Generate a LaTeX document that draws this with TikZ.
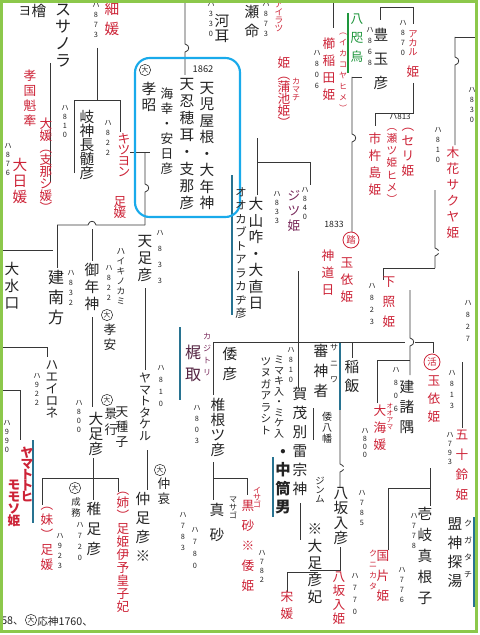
\documentclass[tikz,border=0pt]{standalone}
\usepackage{fontspec}
\setmainfont{Noto Sans CJK JP}
\usetikzlibrary{positioning}
\definecolor{ink}{RGB}{35,35,35}
\definecolor{hand}{RGB}{205,35,55}
\definecolor{plum}{RGB}{120,40,90}
\definecolor{wire}{RGB}{55,55,55}
\definecolor{tealline}{RGB}{40,115,145}
\definecolor{leaf}{RGB}{30,150,60}
\definecolor{boxblue}{RGB}{25,170,235}
\definecolor{framegreen}{RGB}{140,200,75}
\newdimen\pxu \pxu=0.75pt
\makeatletter
\def\vt@end{vt@end}
\def\vt@loop#1{\ifx\vt@end#1\else\hbox to 1em{\hss#1\hss}\expandafter\vt@loop\fi}
\newcommand\vt[2][15]{\vbox{\baselineskip=#1\pxu\lineskiplimit=-\maxdimen\vt@loop#2\vt@end}}
\makeatother
\newcommand\vjump[4]{\draw[ln] (#1,#2) -- (#1,#3-4) .. controls (#1+5,#3-3) and (#1+5,#3+3) .. (#1,#3+4) -- (#1,#4);}
\newcommand\hjump[4]{\draw[ln] (#2,#1) -- (#3-4,#1) .. controls (#3-3,#1-5) and (#3+3,#1-5) .. (#3+4,#1) -- (#4,#1);}
\begin{document}
\begin{tikzpicture}[x=0.75pt,y=-0.75pt,
  nm/.style={inner sep=0pt,anchor=north,text=ink},
  big/.style={nm,font=\fontsize{11}{11}\selectfont},
  mid/.style={nm,font=\fontsize{9.5}{9.5}\selectfont},
  sml/.style={nm,font=\fontsize{5.5}{5.5}\selectfont},
  rby/.style={nm,font=\fontsize{6}{6}\selectfont},
  rd/.style={text=hand},
  ln/.style={draw=wire,line width=0.6pt},
  dbl/.style={draw=wire,double,double distance=0.9pt,line width=0.4pt},
  tl/.style={draw=tealline,line width=0.9pt},
  dai/.style={circle,draw=ink,line width=0.4pt,inner sep=0pt,minimum size=8.5pt,font=\fontsize{5}{5}\selectfont,text=ink},
  rcirc/.style={circle,draw=hand,line width=0.6pt,inner sep=0pt,minimum size=12pt,font=\fontsize{7}{7}\selectfont,text=hand}]
\useasboundingbox (0,0) rectangle (479,635);
\fill[white] (0,0) rectangle (479,635);

% lines, left part
\draw[dbl] (0,26) -- (47,26);
\draw[dbl] (0,60) -- (53,60);
\draw[ln] (50,63) -- (50,182);
\draw[dbl] (63,48) -- (343,48);
\draw[ln] (97,48) -- (97,100) (74,173) -- (74,100) -- (120,100) -- (120,132);
\draw[dbl] (0,188) -- (141,188);
\draw[ln] (130,152) -- (150,152);
\vjump{145}{152}{188}{225}
\hjump{225}{57}{92}{145}
\draw[ln] (57,225) -- (57,268);
\draw[dbl] (51,258) -- (51,288);
\draw[ln] (0,250) -- (53,250);
\draw[ln] (92,229) -- (92,261) (92,317) -- (92,407);
\draw[ln] (145,288) -- (145,370);
\draw[ln] (0,347) -- (47,347) -- (47,357);
\draw[dbl] (0,367) -- (33,367);
\draw[ln] (0,390) -- (20,390) -- (20,440);
\draw[ln] (93,458) -- (93,500);
\draw[ln] (42,505) -- (42,478) -- (118,478) -- (118,492);
\draw[ln] (147,450) -- (147,490);
\draw[dbl] (0,552) -- (33,552);
\draw[tl] (33,440) -- (33,523);

% lines, middle part
\vjump{185}{0}{48}{75}
\draw[dbl] (218,138) -- (370,138);
\draw[ln] (257,138) -- (257,195) (257,162) -- (310,162) -- (310,185);
\draw[tl] (232,175) -- (232,315);
\draw[dbl] (267,271) -- (320,271);
\draw[ln] (298,271) -- (298,388);
\draw[ln] (213,342) -- (405,342) (415,342) -- (433,342) -- (433,353);
\draw[ln] (213,342) -- (213,395) (352,342) -- (352,358);
\draw[tl] (180,327) -- (180,400);
\draw[ln] (213,462) -- (213,500) (213,478) -- (247,478) -- (247,495);
\draw[tl] (273,457) -- (273,517);
\draw[ln] (300,503) -- (300,540);
\draw[ln] (287,592) -- (287,572) -- (318,572);
\draw[dbl] (313,408) -- (340,408);
\draw[ln] (313,408) -- (313,440);
\vjump{340}{408}{468}{487}
\draw[dbl] (310,468) -- (450,468);
\draw[ln] (430,468) -- (430,506);
\draw[ln] (388,550) -- (388,488) -- (430,488);
\draw[ln] (340,547) -- (340,570) -- (310,570);
\draw[tl] (340,343) -- (340,410);
\draw[tl] (474,517) -- (474,607);

% lines, right part
\draw[ln] (333,0) -- (333,28);
\draw[leaf,line width=1pt] (348,13) -- (348,73);
\draw[ln] (380,20) -- (380,7) -- (413,7) -- (413,24);
\draw[dbl] (392,61) -- (476,61);
\vjump{455}{37}{61}{145}
\draw[ln] (455,37) -- (476,37);
\vjump{352}{77}{138}{232}
\draw[ln] (352,77) -- (362,77);
\draw[ln] (413,83) -- (413,113) -- (375,113) -- (375,126);
\draw[dbl] (420,190) -- (476,190);
\vjump{435}{190}{252}{268}
\draw[ln] (435,268) -- (383,268) -- (383,280);
\draw[dbl] (357,252) -- (476,252);
\draw[dbl] (407,290) -- (476,290);
\vjump{410}{290}{342}{375}
\draw[ln] (377,403) -- (377,360) -- (410,360);
\draw[dbl] (443,360) -- (476,360);
\draw[ln] (462,362) -- (462,428);

% names, top left
\node[mid] (yo) at (25,6) {ヨ};
\node[big] (hinoki) at (39,4) {檜};
\node[big,font=\fontsize{12}{12}\selectfont] (susanora) at (63,4) {\vt[17]{スサノラ}};
\node[big,rd] (hoso) at (112,2) {\vt[20]{細媛}};
\node[sml] (n873a) at (96,2) {\vt[10]{ハ873}};
\node[mid,rd] (kokuA) at (30,70) {\vt[15]{孝国魁牽}};
\node[mid,rd] (kokuB) at (46,118) {\vt[12]{大媛︵支那シ媛︶}};
\node[sml] (n876) at (8,143) {\vt[9]{ハ876}};
\node[big,rd] (oohi) at (20,158) {\vt[16]{大日媛}};
\node[big] (nagasune) at (87,110) {\vt[14]{岐神長髄彦}};
\node[sml] (n810a) at (65,105) {\vt[9]{ハ810}};
\node[mid,rd] (kitsu) at (124,133) {\vt[11]{キツヨン}};
\node[sml] (n822a) at (108,120) {\vt[10]{ハ822}};
\node[mid,rd] (ashihime) at (120,196) {\vt[11]{足媛}};

% names in the box
\draw[boxblue,line width=1.6pt,rounded corners=11pt] (135,58) rectangle (240,217);
\node[dai] (dai1) at (145,70) {大};
\node[big] (kosho) at (149,82) {\vt[16]{孝昭}};
\node[nm,font=\fontsize{7}{7}\selectfont,anchor=center] (y1862) at (203,69) {1862};
\node[mid] (umisachi) at (167,88) {\vt[15]{海幸・安日彦}};
\node[big] (oshiho) at (187,78) {\vt[17]{天忍穂耳・支那彦}};
\node[big] (koyane) at (207,82) {\vt[16.5]{天児屋根・大年神}};

% names, top middle and right
\node[sml] (n330) at (211,1) {\vt[10]{ハ330}};
\node[big] (kawamimi) at (222,14) {\vt[15]{河耳}};
\node[big] (semei) at (252,5) {\vt[19]{瀬命}};
\node[sml] (n873b) at (266,1) {\vt[10]{ハ873}};
\node[rby,rd,font=\fontsize{6.5}{6.5}\selectfont] (airatsu) at (279,1) {\vt[8]{アイラツ}};
\node[mid,rd] (kamachi) at (284,57) {\vt[12]{姫︵蒲池姫︶}};
\node[rby,rd] (kamachiR) at (296,78) {\vt[8]{カマチ}};
\node[mid,text=leaf] (yata) at (357,14) {\vt[19]{八咫烏}};
\node[rby,rd] (ikako) at (343,33) {\vt[11]{︵イカコヤヒメ︶}};
\node[mid,rd] (kushi) at (329,38) {\vt[17]{櫛稲田姫}};
\node[sml] (n806a) at (317,50) {\vt[11]{ハ806}};
\node[big] (toyotama) at (381,28) {\vt[24]{豊玉彦}};
\node[sml] (n868) at (370,27) {\vt[11]{ハ868}};
\node[rby,rd,font=\fontsize{7}{7}\selectfont] (akaru) at (413,30) {\vt[9]{アカル}};
\node[mid,rd] (akaruH) at (413,66) {姫};
\node[sml] (n870) at (403,20) {\vt[10]{ハ870}};
\node[nm,font=\fontsize{6}{6}\selectfont,anchor=center] (n813a) at (400,117) {ハ813};
\node[mid,rd] (ichiki) at (375,133) {\vt[17]{市杵島姫}};
\node[rby,rd,font=\fontsize{8}{8}\selectfont] (tagitsu) at (392,128) {\vt[12.2]{︵瀬ツ姫ヒメ︶}};
\node[mid,rd] (seri) at (408,128) {\vt[15]{︵セリ姫}};
\node[sml] (n810b) at (438,127) {\vt[10]{ハ810}};
\node[mid,rd] (konohana) at (453,147) {\vt[16]{木花サクヤ姫}};
\node[sml] (n830) at (472,87) {\vt[10]{ハ830}};
\node[nm,font=\fontsize{6.5}{6.5}\selectfont,anchor=center] (n1833) at (334,224) {1833};
\node[rcirc] (tou) at (351,240) {踏};
\node[mid,rd] (kamimichi) at (328,250) {\vt[17]{神道日}};
\node[mid,rd] (tamayori1) at (347,257) {\vt[17]{玉依姫}};
\node[mid,rd] (shitateru) at (389,277) {\vt[20]{下照姫}};
\node[sml] (n823) at (372,283) {\vt[12]{ハ823}};
\node[sml] (n827) at (468,300) {\vt[12]{ハ827}};

% names, middle
\node[sml] (n833a) at (160,230) {\vt[16]{ハ833}};
\node[big] (amatarashi) at (145,235) {\vt[17]{天足彦}};
\node[mid,font=\fontsize{8.5}{8.5}\selectfont] (kabuto) at (241,187) {\vt[13.5]{オオカブトアラカヂ彦}};
\node[big] (ooyama) at (256,197) {\vt[16.5]{大山咋・大直日}};
\node[sml] (n833b) at (277,191) {\vt[9]{ハ833}};
\node[mid,text=plum] (jitsu) at (294,190) {\vt[15]{ジツ姫}};
\node[sml] (n840) at (305,187) {\vt[9]{ハ840}};
\node[big,font=\fontsize{12}{12}\selectfont,text=plum!60!ink] (kajitori) at (193,345) {\vt[22]{梶取}};
\node[rby,text=plum] (kajiR) at (207,333) {\vt[12]{カジトリ}};
\node[big] (yamatohiko) at (230,347) {\vt[20]{倭彦}};
\node[sml] (n810c) at (161,365) {\vt[12]{ハ810}};
\node[mid,font=\fontsize{9}{9}\selectfont] (takeru) at (145,373) {\vt[11.5]{ヤマトタケル}};
\node[sml] (n803) at (197,405) {\vt[11]{ハ803}};
\node[big] (shiine) at (218,398) {\vt[15]{椎根ツ彦}};
\node[rby,font=\fontsize{7.5}{7.5}\selectfont] (mimaki) at (279,356) {\vt[10.5]{ミマキ入・ミケ入}};
\node[big,font=\fontsize{11.5}{11.5}\bfseries] (nakatsutsu) at (283,449) {\vt[18.5]{・中筒男}};
\node[rby,font=\fontsize{8}{8}\selectfont] (tsunuga) at (266,357) {\vt[11.5]{ツヌガアラシト}};
\node[sml] (n810d) at (291,347) {\vt[10]{ハ810}};
\node[big] (kamo) at (300,387) {\vt[19]{賀茂別雷宗神}};
\node[rby,font=\fontsize{7.5}{7.5}\selectfont] (yawata) at (327,412) {\vt[11]{倭八幡}};
\node[rby,font=\fontsize{7}{7}\selectfont] (jinmu) at (320,477) {\vt[9]{ジンム}};
\node[big] (saniwa) at (321,344) {\vt[20]{審神者}};
\node[rby] (saniwaR) at (334,344) {\vt[16]{サニワ}};
\node[big] (inai) at (352,360) {\vt[19]{稲飯}};
\node[rcirc] (katsu) at (432,362) {活};
\node[mid,rd] (tamayori2) at (434,375) {\vt[18]{玉依姫}};
\node[sml] (n813b) at (452,370) {\vt[11]{ハ813}};
\node[big] (takemoro) at (407,380) {\vt[20]{建諸隅}};
\node[sml] (n806b) at (396,367) {\vt[13]{ハ806}};
\node[mid,rd] (ooama) at (380,405) {\vt[17]{大海媛}};
\node[rby,rd,font=\fontsize{5}{5}\selectfont] (ooamaR) at (390,403) {\vt[7]{オオアマ}};
\node[sml] (n800a) at (365,428) {\vt[8]{ハ800}};
\node[mid,rd] (isuzu) at (462,430) {\vt[20]{五十鈴姫}};
\node[sml] (n793) at (450,432) {\vt[9]{ハ793}};
\node[big] (yasaka) at (341,487) {\vt[15]{八坂入彦}};
\node[sml] (n785) at (362,490) {\vt[10]{ハ785}};
\node[mid,rd] (yasakaH) at (339,572) {\vt[14]{八坂入姫}};
\node[sml] (n770) at (355,573) {\vt[12]{ハ770}};
\node[mid,rd] (kunikata) at (383,550) {\vt[20]{国片姫}};
\node[rby,rd] (kunikataR) at (373,550) {\vt[11]{クニカタ}};
\node[sml] (n776) at (402,567) {\vt[10]{ハ776}};
\node[big] (iki) at (425,507) {\vt[21]{壱岐真根子}};
\node[sml] (n778) at (414,513) {\vt[10]{ハ778}};
\node[big] (kugatachi) at (455,517) {\vt[19]{盟神探湯}};
\node[rby] (kugaR) at (468,520) {\vt[17]{クガタチ}};
\node[big] (ootarashiK) at (315,523) {\vt[17]{※大足彦妃}};
\node[mid,rd] (sohime) at (287,591) {\vt[17]{宋媛}};
\node[big] (masago) at (217,503) {\vt[25]{真砂}};
\node[rby] (masagoR) at (233,497) {\vt[8]{マサゴ}};
\node[sml] (n780) at (195,527) {\vt[12]{ハ780}};
\node[mid,rd] (isago) at (248,500) {\vt[20]{黒砂※倭姫}};
\node[rby,rd] (isagoR) at (257,487) {\vt[7]{イサゴ}};
\node[sml] (n782) at (262,550) {\vt[9]{ハ782}};

% names, bottom left
\node[dai] (dai2) at (107,400) {大};
\node[mid] (keiko) at (111,408) {\vt[16]{景行}};
\node[big] (ootarashi) at (96,412) {\vt[15]{大足彦}};
\node[mid] (tanako) at (122,407) {\vt[15]{天種子}};
\node[sml] (n800b) at (79,400) {\vt[9]{ハ800}};
\node[big] (mitoshi) at (92,263) {\vt[17]{御年神}};
\node[rby,font=\fontsize{6.5}{6.5}\selectfont] (haiki) at (121,248) {\vt[10]{ハイキノカミ}};
\node[sml] (n822b) at (109,265) {\vt[10]{ハ822}};
\node[dai] (dai3) at (107,315) {大};
\node[mid] (koan) at (110,324) {\vt[15]{孝安}};
\node[big,font=\fontsize{12}{12}\selectfont] (takeminakata) at (56,270) {\vt[20]{建南方}};
\node[sml] (n832) at (71,270) {\vt[10]{ハ832}};
\node[big] (oomizu) at (12,262) {\vt[17]{大水口}};
\node[mid] (haeiro) at (52,360) {\vt[12]{ハエイロネ}};
\node[sml] (n922) at (37,373) {\vt[9]{ハ922}};
\node[sml] (n990) at (7,420) {\vt[9]{ハ990}};
\node[mid,rd,font=\fontsize{9.5}{9.5}\bfseries] (momosoA) at (27,447) {\vt[11]{ヤマトトヒ}};
\node[mid,rd,font=\fontsize{9.5}{9.5}\bfseries] (momosoB) at (14,480) {\vt[12]{モモソ姫}};
\node[mid,rd] (imouto) at (47,507) {\vt[15]{︵妹︶足媛}};
\node[sml] (n923) at (60,533) {\vt[10]{ハ923}};
\node[dai] (dai4) at (75,488) {大};
\node[rby,font=\fontsize{7}{7}\selectfont] (seimu) at (76,497) {\vt[11]{成務}};
\node[sml] (n720) at (80,522) {\vt[11]{ハ720}};
\node[big] (wakatarashi) at (94,502) {\vt[20]{稚足彦}};
\node[mid,rd] (ane) at (123,492) {\vt[13]{︵姉︶足姫伊予皇子妃}};
\node[big] (nakatarashi) at (143,492) {\vt[19]{仲足彦※}};
\node[dai] (dai5) at (160,470) {大};
\node[mid] (chuai) at (164,478) {\vt[15]{仲哀}};
\node[sml] (n783) at (183,512) {\vt[11]{ハ783}};
\node[nm,anchor=west,font=\fontsize{8}{8}\selectfont] (b58) at (1,621) {58、};
\node[dai] (dai6) at (31,620) {大};
\node[nm,anchor=west,font=\fontsize{8}{8}\selectfont] (ojin) at (37,621) {応神1760、};

\draw[framegreen,line width=2.25pt] (1.5,1.5) rectangle (476.5,631.5);
\end{tikzpicture}
\end{document}
